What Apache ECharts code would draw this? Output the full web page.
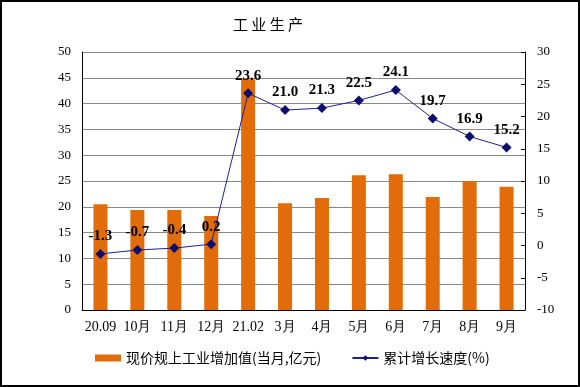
<!DOCTYPE html>
<html><head><meta charset="utf-8">
<script src="https://cdn.jsdelivr.net/npm/echarts@6/dist/echarts.min.js"></script>
<style>
html,body{margin:0;padding:0;background:#fff;}
#c{position:absolute;left:0;top:0;width:576px;height:383px;border:2px solid #000;}
</style></head>
<body><div id="c"></div>
<script>
const categories = ['20.09','10月','11月','12月','21.02','3月','4月','5月','6月','7月','8月','9月'];
const valueAdded = [20.5,19.4,19.4,18.2,44.7,20.7,21.7,26.1,26.3,21.9,25.0,23.9];
const growth = [-1.3,-0.7,-0.4,0.2,23.6,21.0,21.3,22.5,24.1,19.7,16.9,15.2];
const seriesNames = ['现价规上工业增加值(当月,亿元)','累计增长速度(%)'];

const chart = echarts.init(document.getElementById('c'));
const serif = 'Liberation Serif, Times New Roman, serif';
chart.setOption({
  animation:false,
  title:{text:'工 业 生 产',left:226,top:10,textStyle:{fontFamily:'Noto Sans CJK SC',fontWeight:'normal',fontSize:15,color:'#000'}},
  grid:{left:80,right:53,top:50,bottom:75},
  legend:{bottom:15,left:88,itemGap:30,itemWidth:26,itemHeight:7,
    textStyle:{fontFamily:'Noto Sans CJK SC',fontSize:14,color:'#000'},
    data:[{name:seriesNames[0],icon:'rect'},{name:seriesNames[1]}]},
  xAxis:{type:'category',data:categories,
    axisLine:{lineStyle:{color:'#000'}},
    axisTick:{inside:true,length:4,lineStyle:{color:'#000'}},
    axisLabel:{interval:0,fontFamily:serif,fontSize:14,color:'#000',margin:10}},
  yAxis:[
    {type:'value',min:0,max:50,interval:5,
     axisLine:{show:true,lineStyle:{color:'#000'}},axisTick:{show:false},
     axisLabel:{fontFamily:serif,fontSize:13,color:'#000',margin:11},
     splitLine:{lineStyle:{color:'#888',width:1}}},
    {type:'value',min:-10,max:30,interval:5,position:'right',
     axisLine:{show:true,lineStyle:{color:'#000'}},axisTick:{show:true,inside:true,length:4,lineStyle:{color:'#000'}},
     axisLabel:{fontFamily:serif,fontSize:13,color:'#000',margin:12},
     splitLine:{show:false}}
  ],
  series:[
    {name:seriesNames[0],type:'bar',data:valueAdded,barWidth:14,itemStyle:{color:'#E36C0A'},yAxisIndex:0},
    {name:seriesNames[1],type:'line',data:growth,yAxisIndex:1,symbol:'diamond',symbolSize:10,
     lineStyle:{color:'#1F1F8F',width:1},itemStyle:{color:'#0D0D70'},
     label:{show:true,position:'top',distance:5,fontFamily:serif,fontSize:15,fontWeight:'bold',color:'#000',
       formatter:p=>p.value.toFixed(1)}}
  ]
});
</script></body></html>
